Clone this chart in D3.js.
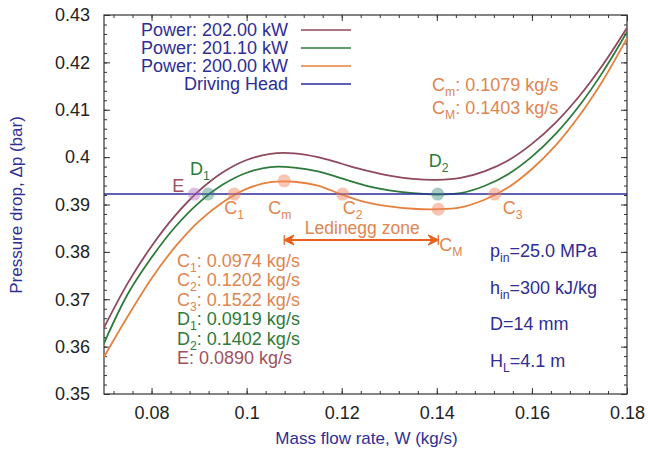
<!DOCTYPE html>
<html>
<head>
<meta charset="utf-8">
<script src="https://cdn.jsdelivr.net/npm/d3@7"></script>
<style>
  body { margin: 0; background: #fff; }
  svg text { font-family: "Liberation Sans", Arial, sans-serif; }
</style>
</head>
<body>
<div id="chart"></div>
<script>
// mass flow grid (kg/s) and pressure drop (bar) for each heating power
var flow = [0.07, 0.075, 0.08, 0.085, 0.09, 0.095, 0.1, 0.105, 0.11, 0.115, 0.12, 0.125,
            0.13, 0.135, 0.14, 0.145, 0.15, 0.155, 0.16, 0.165, 0.17, 0.175, 0.18];
var dp202 = [0.3640, 0.3734, 0.3812, 0.3877, 0.3929, 0.3968, 0.3994, 0.4007, 0.4008, 0.4000, 0.3986, 0.3972,
             0.3961, 0.3954, 0.3952, 0.3956, 0.3970, 0.3993, 0.4028, 0.4073, 0.4129, 0.4196, 0.4273];
var dp201 = [0.3607, 0.3711, 0.3788, 0.3853, 0.3904, 0.3942, 0.3967, 0.3979, 0.3978, 0.3970, 0.3955, 0.3940,
             0.3930, 0.3924, 0.3921, 0.3924, 0.3939, 0.3964, 0.4001, 0.4049, 0.4109, 0.4181, 0.4264];
var dp200 = [0.3578, 0.3664, 0.3744, 0.3811, 0.3865, 0.3905, 0.3933, 0.3947, 0.3948, 0.3940, 0.3921, 0.3905,
             0.3896, 0.3891, 0.3890, 0.3894, 0.3910, 0.3936, 0.3975, 0.4025, 0.4088, 0.4163, 0.4251];
var headFlow = [0.07, 0.18];
var headDp = [0.3922, 0.3922];

var seriesNames = ["Power: 202.00 kW", "Power: 201.10 kW", "Power: 200.00 kW", "Driving Head"];

// operating points
var pointNames = ["E", "D1", "C1", "Cm", "C2", "D2", "CM", "C3"];
var pointFlow = [0.0890, 0.0919, 0.0974, 0.1079, 0.1202, 0.1402, 0.1403, 0.1522];
var pointDp = [0.3922, 0.3922, 0.3922, 0.3950, 0.3922, 0.3922, 0.3890, 0.3922];

var xTicks = [0.08, 0.1, 0.12, 0.14, 0.16, 0.18];
var xTickLabels = ["0.08", "0.1", "0.12", "0.14", "0.16", "0.18"];
var yTicks = [0.35, 0.36, 0.37, 0.38, 0.39, 0.4, 0.41, 0.42, 0.43];
var yTickLabels = ["0.35", "0.36", "0.37", "0.38", "0.39", "0.4", "0.41", "0.42", "0.43"];

var W = 648, H = 454;
var L = 104, R = 627, T = 15, B = 394;

var cBrown = "#8e4a5c", cGreen = "#2e7a3a", cOrange = "#e5803f", cBlue = "#2c2c9a";
var cText = "#2e2e96", cLabelOr = "#e08550", cArrow = "#e8601c";

var svg = d3.select("#chart").append("svg").attr("width", W).attr("height", H);

var x = d3.scaleLinear().domain([0.07, 0.18]).range([L, R]);
var y = d3.scaleLinear().domain([0.35, 0.43]).range([B, T]);

var xMinor = d3.range(0.072, 0.1801, 0.004);
var yMinor = d3.range(0.35, 0.4301, 0.002);

function tickAxis(axis, g) {
  g.call(axis);
  g.select(".domain").remove();
  g.selectAll("line").attr("stroke", "#333").attr("stroke-width", 1);
  g.selectAll("text").attr("fill", "#222").style("font-size", "18px");
}

// inward ticks on all four sides
tickAxis(d3.axisBottom(x).tickValues(xMinor).tickSize(-3).tickFormat(""),
  svg.append("g").attr("transform", "translate(0," + B + ")"));
tickAxis(d3.axisBottom(x).tickValues(xTicks).tickSize(-6).tickPadding(12)
  .tickFormat(function(d, i) { return xTickLabels[i]; }),
  svg.append("g").attr("transform", "translate(0," + B + ")"));
tickAxis(d3.axisTop(x).tickValues(xMinor).tickSize(-3).tickFormat(""),
  svg.append("g").attr("transform", "translate(0," + T + ")"));
tickAxis(d3.axisTop(x).tickValues(xTicks).tickSize(-6).tickFormat(""),
  svg.append("g").attr("transform", "translate(0," + T + ")"));
tickAxis(d3.axisLeft(y).tickValues(yMinor).tickSize(-3).tickFormat(""),
  svg.append("g").attr("transform", "translate(" + L + ",0)"));
tickAxis(d3.axisLeft(y).tickValues(yTicks).tickSize(-6).tickPadding(14)
  .tickFormat(function(d, i) { return yTickLabels[i]; }),
  svg.append("g").attr("transform", "translate(" + L + ",0)"));
tickAxis(d3.axisRight(y).tickValues(yMinor).tickSize(-3).tickFormat(""),
  svg.append("g").attr("transform", "translate(" + R + ",0)"));
tickAxis(d3.axisRight(y).tickValues(yTicks).tickSize(-6).tickFormat(""),
  svg.append("g").attr("transform", "translate(" + R + ",0)"));

svg.append("rect").attr("x", L).attr("y", T).attr("width", R - L).attr("height", B - T)
  .attr("fill", "none").attr("stroke", "#333").attr("stroke-width", 1.2);

// curves
var line = d3.line()
  .x(function(d) { return x(d[0]); })
  .y(function(d) { return y(d[1]); })
  .curve(d3.curveCatmullRom.alpha(0.5));

var curves = [
  { vals: dp202, color: cBrown },
  { vals: dp201, color: cGreen },
  { vals: dp200, color: cOrange }
];
svg.append("clipPath").attr("id", "plotclip")
  .append("rect").attr("x", L).attr("y", T).attr("width", R - L).attr("height", B - T);
var plot = svg.append("g").attr("clip-path", "url(#plotclip)");

curves.forEach(function(c) {
  plot.append("path")
    .datum(flow.map(function(f, i) { return [f, c.vals[i]]; }))
    .attr("fill", "none").attr("stroke", c.color).attr("stroke-width", 1.8)
    .attr("d", line);
});
plot.append("path")
  .datum(headFlow.map(function(f, i) { return [f, headDp[i]]; }))
  .attr("fill", "none").attr("stroke", cBlue).attr("stroke-width", 1.5)
  .attr("d", line);

// point markers
var markFill = { E: "#b274c4", D1: "#3d8c7a", D2: "#3d8c7a" };
plot.selectAll(".pt").data(pointNames).enter().append("circle")
  .attr("class", "pt")
  .attr("cx", function(d, i) { return x(pointFlow[i]); })
  .attr("cy", function(d, i) { return y(pointDp[i]); })
  .attr("r", 6.5)
  .attr("fill", function(d) { return markFill[d] || "#f58a68"; })
  .attr("fill-opacity", function(d) { return markFill[d] ? 0.45 : 0.5; });

// point labels: main letter, subscript, dx, dy from the marker, color
var labelInfo = {
  E:  ["E", "", -22, -2, "#a0505e"],
  D1: ["D", "1", -18, -19, cGreen],
  C1: ["C", "1", -10, 20, cLabelOr],
  Cm: ["C", "m", -16, 33, cLabelOr],
  C2: ["C", "2", 0, 20, cLabelOr],
  D2: ["D", "2", -9, -27, cGreen],
  CM: ["C", "M", 1, 42, cLabelOr],
  C3: ["C", "3", 8, 20, cLabelOr]
};

function subText(g, px, py, main, sub, color, size) {
  var t = g.append("text").attr("x", px).attr("y", py).attr("fill", color)
    .style("font-size", size + "px");
  t.append("tspan").text(main);
  if (sub) t.append("tspan").attr("dy", 5).style("font-size", (size * 0.68) + "px").text(sub);
  return t;
}

pointNames.forEach(function(n, i) {
  var li = labelInfo[n];
  subText(svg, x(pointFlow[i]) + li[2], y(pointDp[i]) + li[3], li[0], li[1], li[4], 18);
});

// Ledinegg zone arrow between Cm and CM
var defs = svg.append("defs");
["arrEnd", "arrStart"].forEach(function(id, k) {
  defs.append("marker").attr("id", id)
    .attr("viewBox", "-10 -6 12 12").attr("refX", 0).attr("refY", 0)
    .attr("markerWidth", 12).attr("markerHeight", 12).attr("markerUnits", "userSpaceOnUse")
    .attr("orient", k === 0 ? "auto" : "auto-start-reverse")
    .append("path").attr("d", "M-10,-5 L0,0 L-10,5 L-6,0 Z M0,-5 L0,5")
    .attr("fill", cArrow).attr("stroke", cArrow).attr("stroke-width", 1.2);
});
var arrowY = 240;
svg.append("line")
  .attr("x1", x(pointFlow[3])).attr("x2", x(pointFlow[6]))
  .attr("y1", arrowY).attr("y2", arrowY)
  .attr("stroke", cArrow).attr("stroke-width", 2)
  .attr("marker-start", "url(#arrStart)").attr("marker-end", "url(#arrEnd)");
svg.append("text").attr("x", (x(pointFlow[3]) + x(pointFlow[6])) / 2 + 1).attr("y", 234)
  .attr("text-anchor", "middle").attr("fill", cLabelOr).style("font-size", "17.5px")
  .text("Ledinegg zone");

// legend
var legY = [30, 48, 66, 84];
var legColors = [cBrown, cGreen, cOrange, cBlue];
seriesNames.forEach(function(s, i) {
  svg.append("text").attr("x", 288).attr("y", legY[i] + 6).attr("text-anchor", "end")
    .attr("fill", cText).style("font-size", "18px").text(s);
  svg.append("line").attr("x1", 301).attr("x2", 351).attr("y1", legY[i]).attr("y2", legY[i])
    .attr("stroke", legColors[i]).attr("stroke-width", 1.6);
});

// value notes
var extNotes = [["C", "m", ": 0.1079 kg/s"], ["C", "M", ": 0.1403 kg/s"]];
extNotes.forEach(function(nt, i) {
  var t = subText(svg, 432, 91 + 23 * i, nt[0], nt[1], cLabelOr, 18);
  t.append("tspan").attr("dy", -5).text(nt[2]);
});

var crossNotes = [
  ["C", "1", ": 0.0974 kg/s", cLabelOr],
  ["C", "2", ": 0.1202 kg/s", cLabelOr],
  ["C", "3", ": 0.1522 kg/s", cLabelOr],
  ["D", "1", ": 0.0919 kg/s", cGreen],
  ["D", "2", ": 0.1402 kg/s", cGreen],
  ["E", "", ": 0.0890 kg/s", "#a0505e"]
];
crossNotes.forEach(function(nt, i) {
  var t = subText(svg, 177, 267 + 19.4 * i, nt[0], nt[1], nt[3], 18);
  t.append("tspan").attr("dy", nt[1] ? -5 : 0).text(nt[2]);
});

var condNotes = [["p", "in", "=25.0 MPa"], ["h", "in", "=300 kJ/kg"], ["D", "", "=14 mm"], ["H", "L", "=4.1 m"]];
condNotes.forEach(function(nt, i) {
  var t = subText(svg, 490, 257 + 36.5 * i, nt[0], nt[1], cText, 18);
  t.append("tspan").attr("dy", nt[1] ? -5 : 0).text(nt[2]);
});

// axis titles
svg.append("text").attr("x", (L + R) / 2 + 1).attr("y", 444).attr("text-anchor", "middle")
  .attr("fill", cText).style("font-size", "17px").text("Mass flow rate, W (kg/s)");
svg.append("text").attr("transform", "translate(22,205) rotate(-90)").attr("text-anchor", "middle")
  .attr("fill", cText).style("font-size", "17px").text("Pressure drop, \u0394p (bar)");
</script>
</body>
</html>
